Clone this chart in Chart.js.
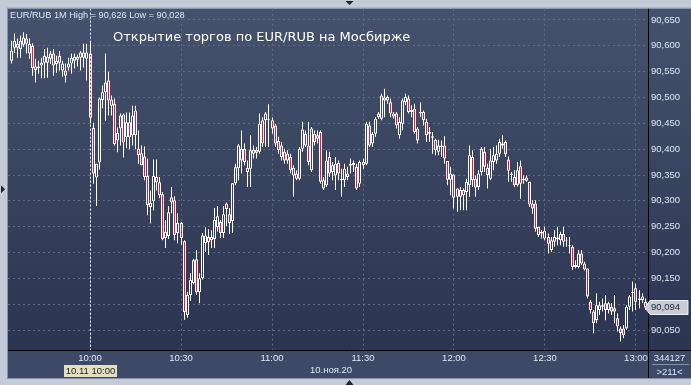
<!DOCTYPE html>
<html>
<head>
<meta charset="utf-8">
<script src="https://cdn.jsdelivr.net/npm/chart.js@4.4.1/dist/chart.umd.min.js"></script>
<style>
  html, body { margin: 0; padding: 0; background: #c3cbd6; }
  #wrap { position: relative; width: 691px; height: 385px; }
</style>
</head>
<body>
<div id="wrap"><canvas id="chart"></canvas></div>
<script>
// 1-minute bars EUR/RUB, 10 Nov 2020, first bar at 09:34
const firstBar = '09:34';

const opens = [
  90.571, 90.596, 90.604, 90.594, 90.602, 90.604, 90.604, 90.600, 90.553, 90.557,
  90.562, 90.567, 90.567, 90.575, 90.585, 90.565, 90.581, 90.552, 90.552, 90.558,
  90.566, 90.571, 90.573, 90.577, 90.577, 90.575,
  90.585, 90.441, 90.345, 90.374, 90.495, 90.510, 90.533, 90.496, 90.488, 90.417,
  90.440, 90.467, 90.423, 90.452, 90.427, 90.475, 90.401, 90.392, 90.386, 90.348,
  90.288, 90.299, 90.346, 90.336, 90.313, 90.228, 90.232, 90.307, 90.301, 90.238,
  90.257, 90.222, 90.079, 90.118, 90.141, 90.187, 90.123, 90.150, 90.218, 90.230,
  90.224, 90.226, 90.249, 90.259, 90.238, 90.295, 90.274, 90.261, 90.334, 90.363,
  90.378, 90.401, 90.364, 90.362, 90.391, 90.399, 90.395, 90.456, 90.456, 90.457,
  90.456, 90.446, 90.416, 90.407, 90.395, 90.378, 90.385, 90.349, 90.353, 90.343,
  90.401, 90.430, 90.407, 90.359, 90.430, 90.420, 90.433, 90.324, 90.330, 90.385,
  90.356, 90.349, 90.373, 90.343, 90.340, 90.346, 90.368, 90.373, 90.366, 90.333,
  90.369, 90.372, 90.446, 90.411, 90.430, 90.469, 90.459, 90.494, 90.501, 90.491,
  90.463, 90.469, 90.427, 90.449, 90.491, 90.498, 90.472, 90.478, 90.440, 90.469,
  90.472, 90.453, 90.430, 90.422, 90.418, 90.395, 90.407, 90.407, 90.377, 90.341,
  90.351, 90.308, 90.321, 90.311, 90.317, 90.330, 90.385, 90.343, 90.327, 90.356,
  90.395, 90.364, 90.343, 90.375, 90.378, 90.391, 90.411, 90.414, 90.380, 90.353,
  90.346, 90.330, 90.367, 90.340, 90.339, 90.337, 90.295, 90.295, 90.250, 90.240,
  90.227, 90.230, 90.205, 90.221, 90.229, 90.224, 90.236, 90.223, 90.212, 90.211,
  90.172, 90.172, 90.198, 90.179, 90.169, 90.105, 90.086, 90.069, 90.089, 90.095,
  90.102, 90.089, 90.095, 90.086, 90.073, 90.053, 90.053, 90.053, 90.095, 90.121,
  90.131, 90.108, 90.108, 90.105
];
const highs = [
  90.610, 90.624, 90.614, 90.620, 90.626, 90.623, 90.614, 90.605, 90.575, 90.571,
  90.577, 90.594, 90.596, 90.590, 90.594, 90.581, 90.590, 90.571, 90.566, 90.577,
  90.585, 90.585, 90.583, 90.590, 90.604, 90.604,
  90.606, 90.451, 90.372, 90.500, 90.523, 90.585, 90.550, 90.504, 90.498, 90.442,
  90.469, 90.469, 90.471, 90.471, 90.484, 90.484, 90.436, 90.407, 90.405, 90.382,
  90.320, 90.380, 90.380, 90.346, 90.317, 90.263, 90.290, 90.327, 90.309, 90.276,
  90.259, 90.224, 90.124, 90.160, 90.188, 90.205, 90.160, 90.238, 90.249, 90.245,
  90.243, 90.286, 90.290, 90.263, 90.290, 90.297, 90.286, 90.334, 90.372, 90.410,
  90.436, 90.411, 90.378, 90.427, 90.407, 90.404, 90.469, 90.462, 90.472, 90.487,
  90.462, 90.449, 90.424, 90.414, 90.401, 90.398, 90.391, 90.369, 90.359, 90.404,
  90.453, 90.436, 90.453, 90.443, 90.436, 90.436, 90.436, 90.346, 90.398, 90.395,
  90.375, 90.385, 90.378, 90.362, 90.372, 90.366, 90.382, 90.378, 90.372, 90.378,
  90.382, 90.453, 90.453, 90.433, 90.462, 90.472, 90.507, 90.517, 90.504, 90.498,
  90.472, 90.472, 90.462, 90.498, 90.507, 90.504, 90.485, 90.488, 90.443, 90.491,
  90.475, 90.459, 90.443, 90.433, 90.420, 90.418, 90.417, 90.425, 90.377, 90.366,
  90.351, 90.324, 90.327, 90.324, 90.343, 90.407, 90.398, 90.349, 90.359, 90.404,
  90.404, 90.372, 90.401, 90.404, 90.407, 90.420, 90.427, 90.417, 90.386, 90.356,
  90.359, 90.375, 90.378, 90.349, 90.349, 90.337, 90.301, 90.301, 90.250, 90.243,
  90.250, 90.237, 90.230, 90.243, 90.250, 90.240, 90.250, 90.230, 90.230, 90.214,
  90.185, 90.205, 90.205, 90.182, 90.169, 90.108, 90.089, 90.121, 90.105, 90.111,
  90.118, 90.105, 90.102, 90.118, 90.082, 90.057, 90.060, 90.098, 90.118, 90.144,
  90.140, 90.127, 90.121, 90.111
];
const lows = [
  90.566, 90.586, 90.577, 90.577, 90.598, 90.585, 90.575, 90.542, 90.529, 90.546,
  90.537, 90.537, 90.538, 90.565, 90.542, 90.548, 90.552, 90.540, 90.529, 90.552,
  90.546, 90.556, 90.560, 90.552, 90.558, 90.533,
  90.450, 90.333, 90.290, 90.360, 90.479, 90.455, 90.465, 90.465, 90.407, 90.394,
  90.407, 90.384, 90.402, 90.400, 90.407, 90.400, 90.372, 90.369, 90.340, 90.272,
  90.256, 90.282, 90.320, 90.305, 90.224, 90.209, 90.226, 90.276, 90.224, 90.218,
  90.215, 90.070, 90.074, 90.106, 90.138, 90.118, 90.102, 90.148, 90.201, 90.195,
  90.209, 90.209, 90.240, 90.228, 90.228, 90.251, 90.236, 90.238, 90.330, 90.340,
  90.353, 90.369, 90.327, 90.327, 90.382, 90.382, 90.391, 90.404, 90.404, 90.404,
  90.430, 90.404, 90.391, 90.378, 90.372, 90.372, 90.353, 90.308, 90.340, 90.340,
  90.395, 90.404, 90.369, 90.356, 90.407, 90.411, 90.333, 90.321, 90.327, 90.346,
  90.340, 90.321, 90.340, 90.308, 90.327, 90.340, 90.353, 90.356, 90.321, 90.327,
  90.362, 90.369, 90.404, 90.404, 90.424, 90.459, 90.456, 90.462, 90.488, 90.462,
  90.459, 90.440, 90.420, 90.436, 90.485, 90.469, 90.462, 90.430, 90.411, 90.462,
  90.446, 90.414, 90.414, 90.391, 90.388, 90.388, 90.385, 90.372, 90.330, 90.311,
  90.285, 90.279, 90.282, 90.282, 90.282, 90.308, 90.327, 90.308, 90.321, 90.349,
  90.356, 90.324, 90.340, 90.359, 90.372, 90.385, 90.401, 90.385, 90.337, 90.337,
  90.327, 90.328, 90.304, 90.333, 90.337, 90.288, 90.275, 90.240, 90.230, 90.227,
  90.224, 90.198, 90.201, 90.211, 90.214, 90.214, 90.211, 90.211, 90.198, 90.166,
  90.169, 90.169, 90.176, 90.165, 90.111, 90.082, 90.044, 90.063, 90.079, 90.086,
  90.069, 90.082, 90.079, 90.063, 90.047, 90.028, 90.034, 90.050, 90.089, 90.086,
  90.089, 90.092, 90.102, 90.089
];
const closes = [
  90.591, 90.610, 90.596, 90.610, 90.616, 90.614, 90.585, 90.557, 90.560, 90.560,
  90.567, 90.581, 90.579, 90.585, 90.562, 90.571, 90.567, 90.566, 90.542, 90.566,
  90.577, 90.579, 90.579, 90.587, 90.587, 90.587,
  90.461, 90.353, 90.372, 90.498, 90.510, 90.529, 90.494, 90.484, 90.410, 90.432,
  90.465, 90.413, 90.452, 90.423, 90.465, 90.427, 90.388, 90.369, 90.346, 90.292,
  90.296, 90.348, 90.336, 90.311, 90.226, 90.240, 90.278, 90.297, 90.234, 90.257,
  90.228, 90.085, 90.118, 90.147, 90.185, 90.123, 90.150, 90.233, 90.233, 90.220,
  90.230, 90.263, 90.270, 90.238, 90.274, 90.284, 90.257, 90.334, 90.365, 90.407,
  90.401, 90.375, 90.356, 90.398, 90.399, 90.393, 90.449, 90.411, 90.469, 90.459,
  90.440, 90.411, 90.398, 90.385, 90.378, 90.391, 90.359, 90.364, 90.343, 90.401,
  90.438, 90.407, 90.375, 90.440, 90.414, 90.427, 90.337, 90.340, 90.378, 90.353,
  90.369, 90.372, 90.353, 90.340, 90.362, 90.353, 90.372, 90.369, 90.324, 90.375,
  90.375, 90.449, 90.407, 90.430, 90.459, 90.462, 90.504, 90.500, 90.494, 90.469,
  90.469, 90.446, 90.453, 90.494, 90.501, 90.472, 90.476, 90.433, 90.417, 90.472,
  90.456, 90.427, 90.433, 90.425, 90.398, 90.407, 90.404, 90.382, 90.341, 90.353,
  90.306, 90.324, 90.308, 90.321, 90.337, 90.388, 90.340, 90.326, 90.353, 90.401,
  90.366, 90.350, 90.378, 90.388, 90.391, 90.414, 90.407, 90.390, 90.358, 90.350,
  90.330, 90.359, 90.333, 90.343, 90.345, 90.293, 90.285, 90.246, 90.234, 90.237,
  90.242, 90.217, 90.224, 90.230, 90.225, 90.236, 90.221, 90.224, 90.214, 90.172,
  90.176, 90.198, 90.179, 90.167, 90.115, 90.089, 90.063, 90.098, 90.098, 90.098,
  90.089, 90.102, 90.086, 90.092, 90.057, 90.044, 90.040, 90.095, 90.115, 90.124,
  90.105, 90.111, 90.115, 90.094
];

const yTicks = [90.05, 90.10, 90.15, 90.20, 90.25, 90.30, 90.35, 90.40, 90.45, 90.50, 90.55, 90.60, 90.65];
const timeTicks = ['10:00', '10:30', '11:00', '11:30', '12:00', '12:30', '13:00'];

const headerText = 'EUR/RUB 1M High = 90,626 Low = 90,028';
const titleText = 'Открытие торгов по EUR/RUB на Мосбирже';
const openMark = '10:00';
const openTag = '10.11 10:00';
const dateText = '10.ноя.20';
const volumeText = '344127';
const barsText = '>211<';

const RED = '#e5173c';
const BG_TOP = '#46526d';
const BG_BOTTOM = '#2b3450';
const GRID = '#5d6c8b';
const LABEL = '#dfe8f5';
const FONT = "'Liberation Sans', Arial, sans-serif";

// minutes after 09:00
const toMin = s => { const [h, m] = s.split(':').map(Number); return h * 60 + m - 540; };
const price = v => v.toFixed(3).replace('.', ',');

const start = toMin(firstBar);
const wicks = highs.map((h, i) => ({ x: start + i, y: [lows[i], h] }));
const bodies = opens.map((o, i) => ({ x: start + i, y: [o, closes[i]] }));

function plotFill(chart) {
  const a = chart.chartArea;
  if (!a) return BG_TOP;
  const key = a.top + '/' + a.bottom;
  if (chart.$fillKey !== key) {
    const g = chart.ctx.createLinearGradient(0, a.top, 0, a.bottom);
    g.addColorStop(0, BG_TOP);
    g.addColorStop(1, BG_BOTTOM);
    chart.$fill = g;
    chart.$fillKey = key;
  }
  return chart.$fill;
}

const frame = {
  id: 'frame',
  afterDatasetsUpdate(chart) {
    // keep candles on whole pixels so wicks stay crisp
    chart.data.datasets.forEach((ds, i) => {
      chart.getDatasetMeta(i).data.forEach(el => { el.x = Math.floor(el.x) + 0.5; });
    });
  },
  beforeDraw(chart) {
    const { ctx, chartArea: a, width } = chart;
    const bottom = chart.scales.x.bottom;
    ctx.save();
    ctx.fillStyle = '#c3cbd6';
    ctx.fillRect(0, 0, width, chart.height);
    ctx.fillStyle = plotFill(chart);
    ctx.fillRect(a.left, a.top, width - a.left, a.bottom - a.top);
    ctx.fillStyle = '#3d4966';
    ctx.fillRect(a.left, a.bottom, width - a.left, bottom - a.bottom);
    ctx.strokeStyle = '#8692a6';
    ctx.lineWidth = 1;
    ctx.strokeRect(a.left - 0.5, a.top - 0.5, width - a.left + 1, bottom - a.top + 1);
    ctx.restore();
  },
  afterDatasetsDraw(chart) {
    const { ctx, chartArea: a } = chart;
    const x = Math.floor(chart.scales.x.getPixelForValue(toMin(openMark))) + 0.5;
    ctx.save();
    ctx.strokeStyle = '#ffffff';
    ctx.lineWidth = 1;
    ctx.setLineDash([2, 2]);
    ctx.beginPath();
    ctx.moveTo(x, a.top);
    ctx.lineTo(x, a.bottom);
    ctx.stroke();
    ctx.restore();
  },
  afterDraw(chart) {
    const { ctx, chartArea: a, width, height } = chart;
    const xs = chart.scales.x, ys = chart.scales.y;
    const bottom = xs.bottom;
    ctx.save();
    // axis lines
    ctx.strokeStyle = '#000000';
    ctx.lineWidth = 1;
    ctx.beginPath();
    ctx.moveTo(a.right + 0.5, a.top);
    ctx.lineTo(a.right + 0.5, bottom);
    ctx.moveTo(a.left, a.bottom + 0.5);
    ctx.lineTo(width, a.bottom + 0.5);
    ctx.stroke();

    // header and title
    ctx.textBaseline = 'middle';
    ctx.textAlign = 'left';
    ctx.fillStyle = LABEL;
    ctx.font = '9.2px ' + FONT;
    ctx.fillText(headerText, a.left + 2, a.top + 7);
    ctx.fillStyle = '#ffffff';
    ctx.font = "13px 'DejaVu Sans', sans-serif";
    ctx.fillText(titleText, a.left + 105, a.top + 29);

    // last price tag
    const py = Math.round(ys.getPixelForValue(closes[closes.length - 1])) + 0.5;
    ctx.beginPath();
    ctx.moveTo(a.right - 3, py);
    ctx.lineTo(a.right + 2, py - 7);
    ctx.lineTo(width - 3, py - 7);
    ctx.lineTo(width - 3, py + 7);
    ctx.lineTo(a.right + 2, py + 7);
    ctx.closePath();
    ctx.fillStyle = '#c8ccd4';
    ctx.fill();
    ctx.strokeStyle = '#eef0f4';
    ctx.stroke();
    ctx.fillStyle = '#17243c';
    ctx.font = '9.5px ' + FONT;
    ctx.fillText(price(closes[closes.length - 1]), a.right + 3, py);

    // session open tag under the axis
    const ox = xs.getPixelForValue(toMin(openMark));
    ctx.fillStyle = '#e4dfc0';
    ctx.fillRect(Math.round(ox) - 26, a.bottom + 15, 53, 12);
    ctx.fillStyle = '#222222';
    ctx.textAlign = 'center';
    ctx.fillText(openTag, ox + 0.5, a.bottom + 21);

    // date
    ctx.fillStyle = LABEL;
    ctx.fillText(dateText, (a.left + a.right) / 2 + 3, a.bottom + 20);

    // bottom right box
    const cx = (a.right + width) / 2;
    ctx.fillText(volumeText, cx, a.bottom + 8);
    ctx.fillText(barsText, cx, a.bottom + 22);
    ctx.strokeStyle = '#8692a6';
    ctx.beginPath();
    ctx.moveTo(a.right + 4, a.bottom + 14.5);
    ctx.lineTo(width - 2, a.bottom + 14.5);
    ctx.stroke();

    // frame arrows
    ctx.fillStyle = '#1e2430';
    const mx = (a.left + width) / 2;
    ctx.beginPath();
    ctx.moveTo(mx - 4, 1); ctx.lineTo(mx + 4, 1); ctx.lineTo(mx, 5); ctx.closePath();
    ctx.moveTo(mx - 4, height); ctx.lineTo(mx + 4, height); ctx.lineTo(mx, height - 5); ctx.closePath();
    const my = (a.top + a.bottom) / 2 + 10;
    ctx.moveTo(1, my - 4); ctx.lineTo(1, my + 4); ctx.lineTo(5, my); ctx.closePath();
    ctx.fill();
    ctx.restore();
  }
};

Chart.defaults.font.family = FONT;
Chart.defaults.font.size = 9.5;
Chart.defaults.color = LABEL;

new Chart(document.getElementById('chart'), {
  type: 'bar',
  data: {
    datasets: [
      {
        label: 'body',
        data: bodies,
        order: 0,
        grouped: false,
        barThickness: 3,
        borderWidth: 1,
        borderColor: '#ffffff',
        borderSkipped: false,
        inflateAmount: 0,
        backgroundColor: c => (closes[c.dataIndex] < opens[c.dataIndex] ? RED : plotFill(c.chart))
      },
      {
        label: 'wick',
        data: wicks,
        order: 1,
        grouped: false,
        barThickness: 1,
        borderWidth: 0,
        inflateAmount: 0,
        backgroundColor: '#ffffff'
      }
    ]
  },
  options: {
    responsive: true,
    maintainAspectRatio: false,
    animation: false,
    layout: { padding: { left: 8, top: 8, right: 0, bottom: 7 } },
    plugins: { legend: { display: false }, tooltip: { enabled: false } },
    scales: {
      x: {
        type: 'linear',
        min: 32.96,
        max: 243.96,
        offset: false,
        afterBuildTicks: s => { s.ticks = timeTicks.map(t => ({ value: toMin(t) })); },
        afterFit: s => { s.height = 28; },
        grid: { color: GRID, offset: false, drawTicks: false },
        border: { display: false, dash: [2, 3] },
        ticks: {
          color: LABEL,
          padding: 3,
          maxRotation: 0,
          autoSkip: false,
          callback: v => timeTicks.find(t => toMin(t) === v)
        }
      },
      y: {
        position: 'right',
        min: 90.0114,
        max: 90.6718,
        afterBuildTicks: s => { s.ticks = yTicks.map(v => ({ value: v })); },
        afterFit: s => { s.width = 43; },
        grid: { color: GRID, drawTicks: false },
        border: { display: false, dash: [2, 3] },
        ticks: { color: LABEL, padding: 3, callback: v => price(v) }
      }
    }
  },
  plugins: [frame]
});
</script>
</body>
</html>
